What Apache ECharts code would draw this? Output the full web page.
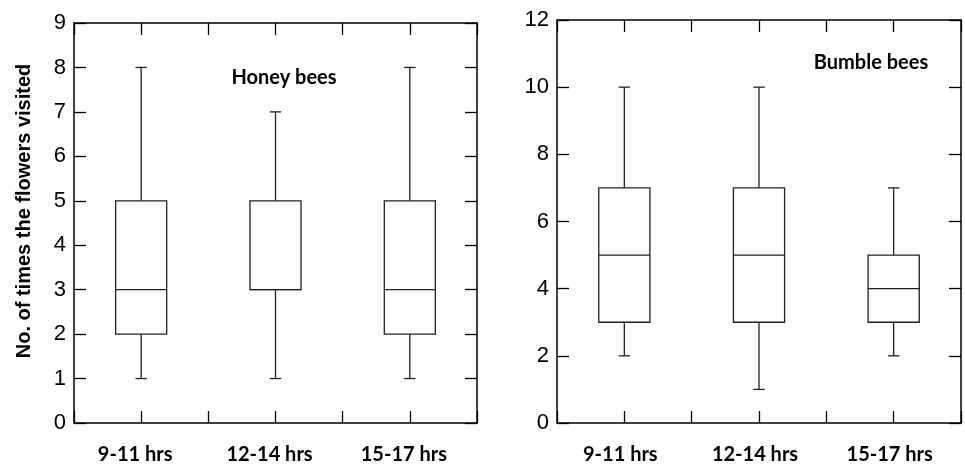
<!DOCTYPE html>
<html>
<head>
<meta charset="utf-8">
<script src="https://cdn.jsdelivr.net/npm/echarts@6/dist/echarts.min.js"></script>
<style>
  html, body { margin: 0; padding: 0; background: #fff; }
  #chart { width: 965px; height: 465px; }
</style>
</head>
<body>
<div id="chart"></div>
<script>
const categories = ["9-11 hrs", "12-14 hrs", "15-17 hrs"];
// x position of each box on a 0..6 axis (ticks every half band)
const categoryPositions = [1, 3, 5];

// [min, q1, median, q3, max] per time slot
const honeyBees = [
  [1, 2, 3, 5, 8],
  [1, 3, 3, 5, 7],
  [1, 2, 3, 5, 8],
];
const bumbleBees = [
  [2, 3, 5, 7, 10],
  [1, 3, 5, 7, 10],
  [2, 3, 4, 5, 7],
];

const honeyAxis = { min: 0, max: 9, interval: 1 };
const bumbleAxis = { min: 0, max: 12, interval: 2 };

const yTitle = "No. of times the flowers visited";
const panelTitles = ["Honey bees", "Bumble bees"];

const labelFont = "Lato, 'Open Sans', sans-serif";
const numFont = "'Liberation Sans', Arial, sans-serif";

const toRows = (stats) =>
  stats.map((s, i) => [categoryPositions[i], ...s]);

function renderBox(params, api) {
  const x = api.value(0);
  const cx = api.coord([x, 0])[0];
  const yOf = (dim) => api.coord([x, api.value(dim)])[1];
  const yMin = yOf(1), yQ1 = yOf(2), yMed = yOf(3), yQ3 = yOf(4), yMax = yOf(5);
  const unit = api.size([1, 0])[0];
  const half = unit * 0.38;
  const cap = unit * 0.085;
  const style = { stroke: "#222", lineWidth: 1.3, fill: null };
  const seg = (x1, y1, x2, y2) => ({ type: "line", shape: { x1, y1, x2, y2 }, style });
  return {
    type: "group",
    children: [
      seg(cx, yMin, cx, yQ1),
      seg(cx, yQ3, cx, yMax),
      seg(cx - cap, yMin, cx + cap, yMin),
      seg(cx - cap, yMax, cx + cap, yMax),
      { type: "rect", shape: { x: cx - half, y: yQ3, width: half * 2, height: yQ1 - yQ3 }, style: { stroke: "#222", lineWidth: 1.3, fill: "#fff" } },
      seg(cx - half, yMed, cx + half, yMed),
    ],
  };
}

const frameLine = { show: true, onZero: false, lineStyle: { color: "#000", width: 1.5 } };
const inTick = { show: true, inside: true, length: 12, lineStyle: { color: "#000", width: 1.3 } };

function xAxes(gridIndex, labelShift) {
  const base = {
    gridIndex,
    type: "value",
    min: 0,
    max: 6,
    interval: 1,
    axisLine: frameLine,
    axisTick: inTick,
    splitLine: { show: false },
  };
  return [
    {
      ...base,
      position: "bottom",
      axisLabel: {
        margin: 22,
        fontFamily: labelFont,
        fontWeight: "bold",
        fontSize: 20,
        color: "#000",
        padding: [0, labelShift, 0, 0],
        formatter: (v) => {
          const i = categoryPositions.indexOf(v);
          return i >= 0 ? categories[i] : "";
        },
      },
    },
    { ...base, position: "top", axisLabel: { show: false } },
  ];
}

function yAxes(gridIndex, range) {
  const base = {
    gridIndex,
    type: "value",
    ...range,
    axisLine: frameLine,
    axisTick: inTick,
    splitLine: { show: false },
  };
  return [
    {
      ...base,
      position: "left",
      axisLabel: { margin: 8, fontFamily: numFont, fontSize: 22, color: "#000" },
    },
    { ...base, position: "right", axisLabel: { show: false } },
  ];
}

const chart = echarts.init(document.getElementById("chart"), null, { renderer: "canvas" });

chart.setOption({
  animation: false,
  backgroundColor: "#fff",
  grid: [
    { left: 74, top: 23, width: 403, height: 400 },
    { left: 557, top: 20, width: 404, height: 405 },
  ],
  xAxis: [...xAxes(0, 12), ...xAxes(1, 8)],
  yAxis: [...yAxes(0, honeyAxis), ...yAxes(1, bumbleAxis)],
  series: [
    { type: "custom", xAxisIndex: 0, yAxisIndex: 0, renderItem: renderBox, data: toRows(honeyBees), encode: { x: 0, y: [1, 2, 3, 4, 5] } },
    { type: "custom", xAxisIndex: 2, yAxisIndex: 2, renderItem: renderBox, data: toRows(bumbleBees), encode: { x: 0, y: [1, 2, 3, 4, 5] } },
  ],
  graphic: [
    {
      type: "text",
      x: 24,
      y: 211,
      rotation: Math.PI / 2,
      style: { text: yTitle, font: "bold 20px 'Liberation Sans', Arial, sans-serif", fill: "#000", align: "center", verticalAlign: "middle" },
    },
    {
      type: "text",
      x: 284,
      y: 78,
      style: { text: panelTitles[0], font: "bold 20px Lato, 'Open Sans', sans-serif", fill: "#000", align: "center", verticalAlign: "middle" },
    },
    {
      type: "text",
      x: 871,
      y: 63,
      style: { text: panelTitles[1], font: "bold 20px Lato, 'Open Sans', sans-serif", fill: "#000", align: "center", verticalAlign: "middle" },
    },
  ],
});
</script>
</body>
</html>
